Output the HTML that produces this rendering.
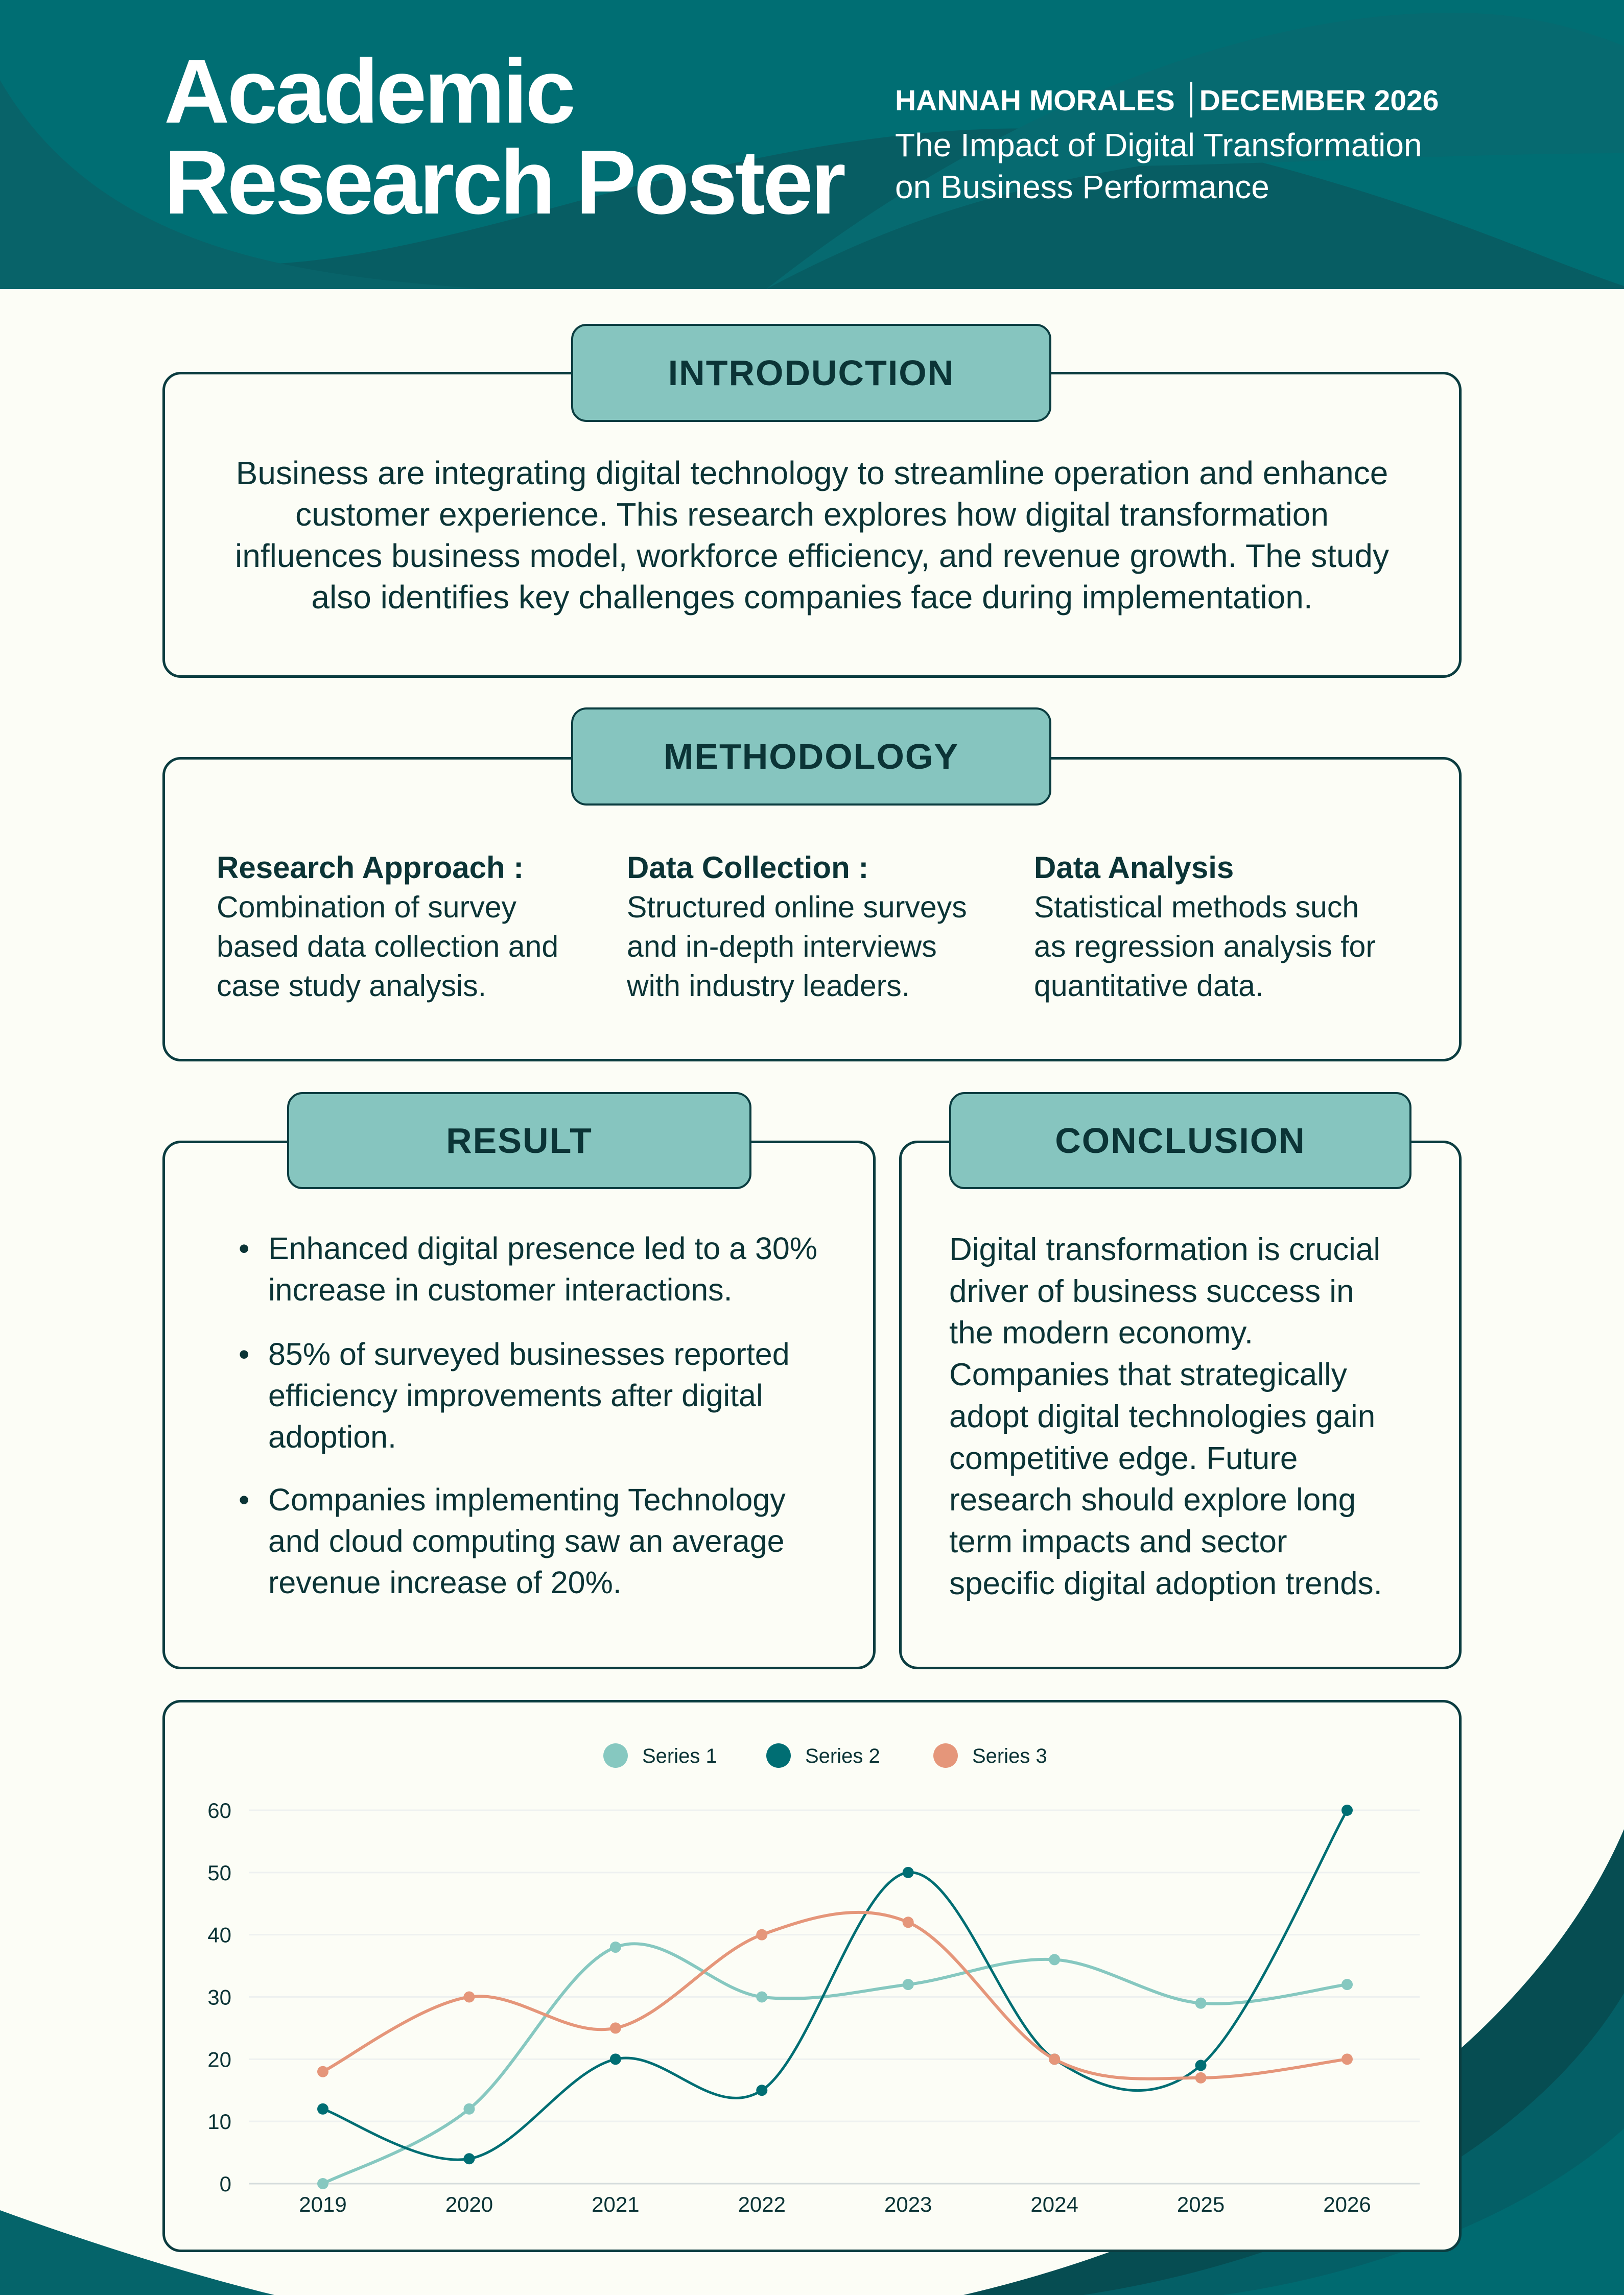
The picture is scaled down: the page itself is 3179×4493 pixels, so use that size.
<!DOCTYPE html>
<html><head><meta charset="utf-8">
<style>
html,body{margin:0;padding:0}
body{width:3179px;height:4493px;position:relative;overflow:hidden;background:#fcfdf6;font-family:"Liberation Sans",sans-serif;color:#0b3436}
.abs{position:absolute}
.box{position:absolute;border:5px solid #0b3d40;border-radius:36px;background:#fcfdf6;box-sizing:border-box}
.pill{position:absolute;background:#86c5bf;border:4px solid #0b3d40;border-radius:30px;box-sizing:border-box;display:flex;align-items:center;justify-content:center;font-weight:bold;font-size:70px;letter-spacing:2px;color:#0b3436}
.p{font-size:60px;line-height:81px}
</style></head><body>
<svg class="abs" style="left:0;top:0" width="3179" height="4493">
<rect x="0" y="0" width="3179" height="566" fill="#006e73"/>
<path d="M0,157 C150,600 500,560 1000,430 C1600,260 2000,200 2400,300 C2800,400 3000,500 3179,560 L3179,566 L0,566Z" fill="#075d63"/>
<path d="M0,157 C200,500 600,540 950,566 L0,566Z" fill="#086369"/>
<path d="M1500,566 C1900,250 2400,25 2840,25 C3000,25 3100,60 3179,90 L3179,300 C2900,300 2500,320 2231,325 C1900,380 1700,460 1500,566Z" fill="#066a70"/>
<path d="M3179,3581 C3000,4000 2500,4350 1886,4493 L3179,4493Z" fill="#064d52"/>
<path d="M3179,3902 C3000,4200 2600,4420 2120,4493 L3179,4493Z" fill="#045f66"/>
<path d="M3179,4167 C3000,4330 2700,4450 2393,4493 L3179,4493Z" fill="#006a70"/>
<path d="M0,4327 C200,4400 400,4460 537,4493 L0,4493Z" fill="#05646a"/>
</svg>

<div class="abs" style="left:321px;top:90px;font-weight:bold;font-size:178px;line-height:178px;letter-spacing:-5px;color:#fff">Academic<br>Research Poster</div>
<div class="abs" style="left:1752px;top:160px;font-weight:bold;font-size:57px;line-height:60px;color:#fff;white-space:nowrap">HANNAH MORALES <span style="display:inline-block;width:4px;height:70px;background:#fff;vertical-align:-14px;margin:0 14px"></span>DECEMBER 2026</div>
<div class="abs" style="left:1752px;top:243px;font-size:64px;line-height:82px;color:#fff;white-space:nowrap">The Impact of Digital Transformation<br>on Business Performance</div>

<div class="box" style="left:318px;top:728px;width:2543px;height:599px"></div>
<div class="pill" style="left:1118px;top:634px;width:940px;height:192px">INTRODUCTION</div>
<div class="abs p" style="left:318px;width:2543px;top:886px;text-align:center;font-size:64px">Business are integrating digital technology to streamline operation and enhance<br>customer experience. This research explores how digital transformation<br>influences business model, workforce efficiency, and revenue growth. The study<br>also identifies key challenges companies face during implementation.</div>

<div class="box" style="left:318px;top:1482px;width:2543px;height:596px"></div>
<div class="pill" style="left:1118px;top:1385px;width:940px;height:192px">METHODOLOGY</div>
<div class="abs p" style="left:424px;top:1660px;width:780px;line-height:77px;font-size:59px"><b style="font-size:60px">Research Approach :</b><br>Combination of survey<br>based data collection and<br>case study analysis.</div>
<div class="abs p" style="left:1227px;top:1660px;width:780px;line-height:77px;font-size:59px"><b style="font-size:60px">Data Collection :</b><br>Structured online surveys<br>and in-depth interviews<br>with industry leaders.</div>
<div class="abs p" style="left:2024px;top:1660px;width:780px;line-height:77px;font-size:59px"><b style="font-size:60px">Data Analysis</b><br>Statistical methods such<br>as regression analysis for<br>quantitative data.</div>

<div class="box" style="left:318px;top:2233px;width:1396px;height:1035px"></div>
<div class="pill" style="left:562px;top:2138px;width:909px;height:190px">RESULT</div>
<div class="abs p" style="left:525px;top:2404px;width:1180px;font-size:61px">
<div style="position:relative"><span style="position:absolute;left:-58px">•</span>Enhanced digital presence led to a 30%<br>increase in customer interactions.</div>
<div style="position:relative;margin-top:45px"><span style="position:absolute;left:-58px">•</span>85% of surveyed businesses reported<br>efficiency improvements after digital<br>adoption.</div>
<div style="position:relative;margin-top:42px"><span style="position:absolute;left:-58px">•</span>Companies implementing Technology<br>and cloud computing saw an average<br>revenue increase of 20%.</div>
</div>

<div class="box" style="left:1760px;top:2233px;width:1101px;height:1035px"></div>
<div class="pill" style="left:1858px;top:2138px;width:905px;height:190px">CONCLUSION</div>
<div class="abs p" style="left:1858px;top:2406px;width:1000px;line-height:81.7px;font-size:62px">Digital transformation is crucial<br>driver of business success in<br>the modern economy.<br>Companies that strategically<br>adopt digital technologies gain<br>competitive edge. Future<br>research should explore long<br>term impacts and sector<br>specific digital adoption trends.</div>

<div class="box" style="left:318px;top:3328px;width:2543px;height:1081px"></div>
<svg id="chart" class="abs" style="left:0;top:0" width="3179" height="4493"></svg>

<script>
const categories=["2019","2020","2021","2022","2023","2024","2025","2026"];
const series1=[0,12,38,30,32,36,29,32];
const series2=[12,4,20,15,50,20,19,60];
const series3=[18,30,25,40,42,20,17,20];
const seriesNames=["Series 1","Series 2","Series 3"];
const yTicks=[0,10,20,30,40,50,60];

const colors=["#86c8c0","#006e73","#e5967a"];
const widths=[6,5,6];
const NS="http://www.w3.org/2000/svg";
const svg=document.getElementById('chart');
const x0=632,x1=2637,y0=4275,y1=3544,yMax=60;
function xs(i){return x0+(x1-x0)*i/(categories.length-1);}
function ys(v){return y0-(y0-y1)*v/yMax;}
function mk(tag,attrs){const e=document.createElementNS(NS,tag);for(const k in attrs)e.setAttribute(k,attrs[k]);svg.appendChild(e);return e;}

yTicks.forEach(t=>{
  const g=mk('line',{x1:487,x2:2779,y1:ys(t),y2:ys(t),stroke:t===0?'#d5dcdc':'#eef1f0','stroke-width':3});
  
  
  const l=mk('text',{x:453,y:ys(t)+15,'text-anchor':'end','font-size':42,fill:'#0b3436','font-family':'Liberation Sans, sans-serif'});
  l.textContent=t;
  
  
});
categories.forEach((c,i)=>{
  const l=mk('text',{x:xs(i),y:4330,'text-anchor':'middle','font-size':42,fill:'#0b3436','font-family':'Liberation Sans, sans-serif'});
  l.textContent=c;
  
  
});
function pathFor(d){
  const p=d.map((v,i)=>[xs(i),ys(v)]);
  let s='M'+p[0][0]+','+p[0][1];
  for(let i=0;i<p.length-1;i++){
    const a=p[i-1]||p[i],b=p[i],c=p[i+1],e=p[i+2]||c;
    const c1=[b[0]+(c[0]-a[0])/6,b[1]+(c[1]-a[1])/6];
    const c2=[c[0]-(e[0]-b[0])/6,c[1]-(e[1]-b[1])/6];
    s+=' C'+c1[0]+','+c1[1]+' '+c2[0]+','+c2[1]+' '+c[0]+','+c[1];
  }
  return s;
}
[series1,series2,series3].forEach((d,k)=>{
  const pth=mk('path',{d:pathFor(d),fill:'none',stroke:colors[k],'stroke-width':widths[k]});
  
  
  d.forEach((v,i)=>{
    const c=mk('circle',{cx:xs(i),cy:ys(v),r:11,fill:colors[k]});
    
    
  });
});
const legX=[1205,1524,1851];
seriesNames.forEach((n,k)=>{
  const c=mk('circle',{cx:legX[k],cy:3437,r:24,fill:colors[k]});
  
  
  const t=mk('text',{x:legX[k]+52,y:3451,'font-size':40,fill:'#0b3436','font-family':'Liberation Sans, sans-serif'});
  t.textContent=n;
  
  
});
</script>
</body></html>
